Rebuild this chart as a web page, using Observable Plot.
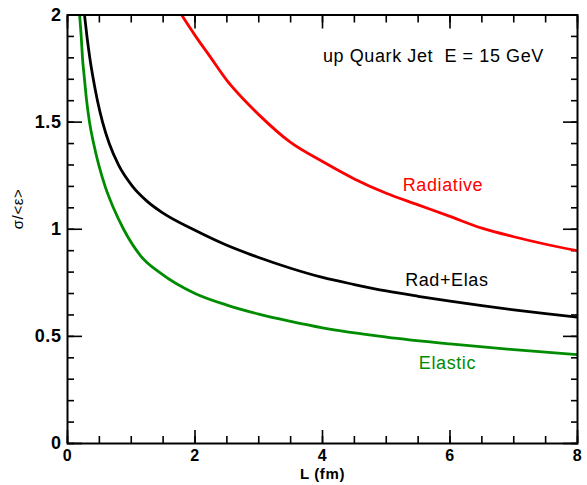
<!DOCTYPE html>
<html>
<head>
<meta charset="utf-8">
<script src="https://cdn.jsdelivr.net/npm/d3@7"></script>
<script src="https://cdn.jsdelivr.net/npm/@observablehq/plot@0.6"></script>
<style>
  html, body { margin: 0; padding: 0; background: white; }
  svg text { letter-spacing: 0.6px; }
</style>
</head>
<body>
<div id="chart"></div>
<script>
// ---- data ----
const elasticL = [0.19, 0.215, 0.235, 0.267, 0.30, 0.345, 0.41, 0.49, 0.59, 0.72, 0.88, 1.15, 1.46, 2.0, 2.5, 3.0, 3.5, 4.0, 5.0, 6.0, 7.0, 8.0];
const elasticY = [2.0, 1.9, 1.8, 1.7, 1.6, 1.5, 1.4, 1.3, 1.2, 1.1, 1.0, 0.875, 0.795, 0.70, 0.646, 0.604, 0.570, 0.540, 0.497, 0.465, 0.438, 0.415];

const radElasL = [0.267, 0.305, 0.35, 0.405, 0.47, 0.55, 0.655, 0.80, 1.02, 1.25, 1.5, 2.0, 2.5, 3.0, 3.5, 4.0, 4.5, 5.0, 5.5, 6.0, 6.5, 7.0, 7.5, 8.0];
const radElasY = [2.0, 1.9, 1.8, 1.7, 1.6, 1.5, 1.4, 1.3, 1.2, 1.13, 1.075, 0.995, 0.925, 0.868, 0.818, 0.775, 0.742, 0.712, 0.687, 0.664, 0.643, 0.624, 0.606, 0.59];

const radL = [1.79, 2.0, 2.25, 2.5, 2.75, 3.0, 3.5, 4.0, 4.5, 5.0, 5.5, 6.0, 6.5, 7.0, 7.5, 8.0];
const radY = [2.0, 1.905, 1.80, 1.695, 1.61, 1.535, 1.405, 1.316, 1.235, 1.168, 1.114, 1.06, 1.005, 0.965, 0.93, 0.90];

const xTickLabels = [0, 2, 4, 6, 8];
const yTickLabels = [0, 0.5, 1, 1.5, 2];
const xMinorTicks = d3.range(0, 8.001, 0.5);
const yMinorTicks = d3.range(0, 2.001, 0.1);

const annotations = [
  {text: "up Quark Jet\u00a0 E = 15 GeV", L: 5.74, y: 1.806, color: "black"},
  {text: "Radiative", L: 5.89, y: 1.204, color: "#ff0000"},
  {text: "Rad+Elas", L: 5.95, y: 0.761, color: "black"},
  {text: "Elastic", L: 5.96, y: 0.373, color: "#008c00"}
];

const series = [
  {name: "Elastic", color: "#008c00", L: elasticL, Y: elasticY},
  {name: "Rad+Elas", color: "black", L: radElasL, Y: radElasY},
  {name: "Radiative", color: "#ff0000", L: radL, Y: radY}
];
const rows = series.flatMap(s => s.L.map((l, i) => ({series: s.name, color: s.color, L: l, y: s.Y[i]})));

const W = 587, H = 485;
const mL = 67, mR = 10, mT = 14.5, mB = 42;

const tk = {text: null, label: null, stroke: "black", strokeWidth: 1.6, tickPadding: 0};

const chart = Plot.plot({
  width: W, height: H,
  marginLeft: mL, marginRight: mR, marginTop: mT, marginBottom: mB,
  x: {domain: [0, 8]},
  y: {domain: [0, 2]},
  style: {fontFamily: "'Liberation Sans', Arial, sans-serif", background: "white", color: "black"},
  marks: [
    // inward ticks on all four sides (negative tick size points into the frame)
    Plot.axisX({anchor: "bottom", ticks: xMinorTicks, tickSize: -7, ...tk}),
    Plot.axisX({anchor: "top", ticks: xMinorTicks, tickSize: -7, ...tk}),
    Plot.axisX({anchor: "bottom", ticks: xTickLabels, tickSize: -13, ...tk}),
    Plot.axisX({anchor: "top", ticks: xTickLabels, tickSize: -13, ...tk}),
    Plot.axisY({anchor: "left", ticks: yMinorTicks, tickSize: -7, ...tk}),
    Plot.axisY({anchor: "right", ticks: yMinorTicks, tickSize: -7, ...tk}),
    Plot.axisY({anchor: "left", ticks: yTickLabels, tickSize: -15, ...tk}),
    Plot.axisY({anchor: "right", ticks: yTickLabels, tickSize: -15, ...tk}),
    // tick labels
    Plot.axisX({anchor: "bottom", ticks: xTickLabels, tickSize: 0, tickPadding: 6, label: null, fontSize: 16, fontWeight: "bold", fill: "black"}),
    Plot.axisY({anchor: "left", ticks: yTickLabels, tickSize: 0, tickPadding: 6, label: null, fontSize: 18, fontWeight: "bold", fill: "black", tickFormat: d => String(d)}),
    Plot.line(rows, {x: "L", y: "y", z: "series", stroke: "color", strokeWidth: 2.8, curve: "monotone-x", clip: true}),
    Plot.frame({stroke: "black", strokeWidth: 2}),
    Plot.text(annotations, {x: "L", y: "y", text: "text", fill: "color", fontSize: 18}),
    Plot.text(["L (fm)"], {frameAnchor: "bottom", dy: 35.5, fontSize: 15, fontWeight: "bold", fill: "black"}),
    Plot.text(["σ/<ε>"], {frameAnchor: "left", dx: -49, rotate: -90, fontSize: 15, fill: "black"})
  ]
});
document.getElementById("chart").appendChild(chart);
</script>
</body>
</html>
